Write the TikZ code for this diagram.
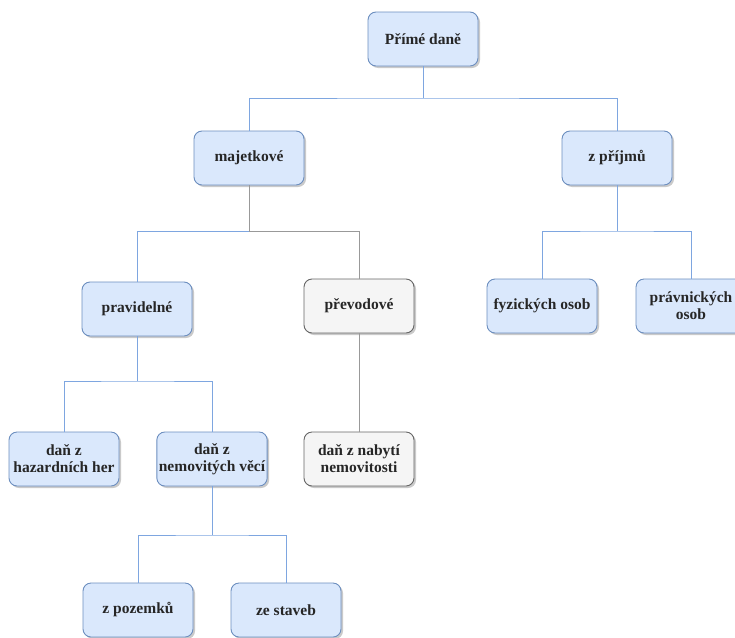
\documentclass[tikz,border=0pt]{standalone}
\usepackage{fontspec}
\setmainfont{Liberation Serif}
\usetikzlibrary{shadows}
\definecolor{boxfill}{HTML}{DAE8FC}
\definecolor{boxline}{HTML}{6C8EBF}
\definecolor{linkline}{HTML}{7EA6E0}
\definecolor{greyfill}{HTML}{F5F5F5}
\definecolor{greyline}{HTML}{666666}
\definecolor{greylinkline}{HTML}{999999}
\tikzset{
  taxbox/.style={draw=boxline, fill=boxfill, line width=0.9pt, rounded corners=8pt,
    minimum width=110pt, minimum height=54pt, align=center, inner sep=2pt,
    font=\fontsize{15.5pt}{17pt}\selectfont\bfseries, text=black!85,
    drop shadow={shadow xshift=2pt, shadow yshift=-2pt, fill=black!35, opacity=0.6}},
  greybox/.style={taxbox, draw=greyline, fill=greyfill},
  link/.style={draw=linkline, line width=1pt},
  greylink/.style={draw=greylinkline, line width=1pt},
}
\begin{document}
\begin{tikzpicture}[x=1pt, y=-1pt]
  \useasboundingbox (0,0) rectangle (735,637);
  % top level
  \node[taxbox] (prime) at (423,39) {Přímé daně};
  % second level
  \node[taxbox] (majet) at (249,158) {majetkové};
  \node[taxbox] (prijem) at (617,158) {z příjmů};
  % third level
  \node[taxbox] (pravid) at (137,309) {pravidelné};
  \node[greybox] (prevod) at (359,306) {převodové};
  \node[taxbox] (fyz) at (542,306) {fyzických osob};
  \node[taxbox] (prav) at (691,306) {právnických\\osob};
  % fourth level
  \node[taxbox] (hazard) at (64,459) {daň z\\hazardních her};
  \node[taxbox] (nemov) at (212,459) {daň z\\nemovitých věcí};
  \node[greybox] (nabyti) at (359,459) {daň z nabytí\\nemovitosti};
  % fifth level
  \node[taxbox] (pozem) at (138,610) {z pozemků};
  \node[taxbox] (stav) at (286,610) {ze staveb};

  % connectors
  \coordinate (j1) at (423,98);
  \draw[link] (prime.south) -- (j1);
  \draw[link] (majet.north) |- (j1) -| (prijem.north);

  \coordinate (j2) at (249,231);
  \draw[greylink] (majet.south) -- (j2);
  \draw[link] (pravid.north) |- (j2);
  \draw[greylink] (j2) -| (prevod.north);

  \coordinate (j3) at (617,231);
  \draw[link] (prijem.south) -- (j3);
  \draw[link] (fyz.north) |- (j3) -| (prav.north);

  \coordinate (j4) at (137,381);
  \draw[link] (pravid.south) -- (j4);
  \draw[link] (hazard.north) |- (j4) -| (nemov.north);

  \draw[greylink] (prevod.south) -- (nabyti.north);

  \coordinate (j5) at (212,535);
  \draw[link] (nemov.south) -- (j5);
  \draw[link] (pozem.north) |- (j5) -| (stav.north);
\end{tikzpicture}
\end{document}
